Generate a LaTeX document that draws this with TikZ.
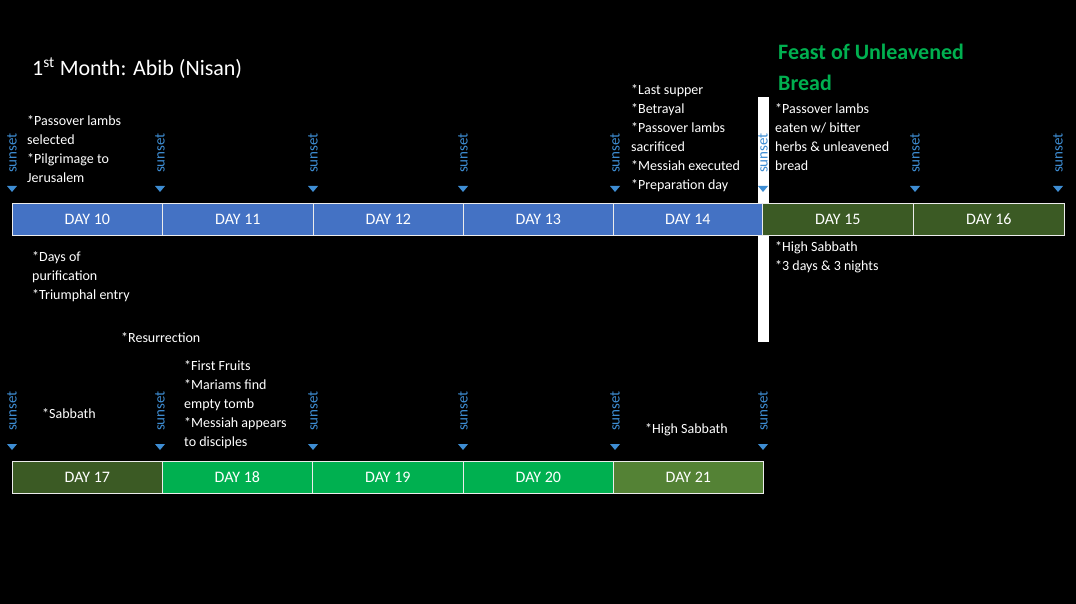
\documentclass[tikz,border=0pt]{standalone}
\usepackage{fontspec}
\setmainfont{Carlito}
\begin{document}
\begin{tikzpicture}[x=1pt,y=-1pt,
 day/.style={draw=white!85!gray,line width=0.8pt,minimum height=32pt,inner sep=0pt,text=white,font=\fontsize{16}{16}\selectfont,anchor=north west},
 note/.style={text=white,font=\fontsize{14}{19}\selectfont,align=left,anchor=north west,inner sep=0pt},
 sun/.style={text=cyan!60!blue!80,rotate=90,font=\fontsize{15}{15}\selectfont,inner sep=0pt},
 tri/.style={fill=cyan!60!blue!80}]
\fill[black] (0,0) rectangle (1076,604);
\useasboundingbox (0,0) rectangle (1076,604);
\definecolor{blu}{HTML}{4472C4}\definecolor{dg}{HTML}{3B5A24}\definecolor{gr}{HTML}{00B050}\definecolor{mg}{HTML}{548235}
\fill[white] (758,97) rectangle (769,342);
\node[note,font=\fontsize{22}{22}\selectfont] (title) at (32,58) {1\textsuperscript{st} Month: Abib (Nisan)};
\node[note,font=\fontsize{22}{31}\selectfont\bfseries,text=gr] (feast) at (778,44) {Feast of Unleavened\\Bread};
% top row
\foreach \a/\b/\c/\t/\n in {12/162/blu/DAY 10/d10,162/313/blu/DAY 11/d11,313/463/blu/DAY 12/d12,463/613/blu/DAY 13/d13,613/762/blu/DAY 14/d14,762/913/dg/DAY 15/d15,913/1064/dg/DAY 16/d16}
 \node[day,fill=\c,minimum width=\b-\a] (\n) at (\a,203) {\t};
\foreach \a/\b/\c/\t/\n in {12/162/dg/DAY 17/d17,162/312/gr/DAY 18/d18,312/463/gr/DAY 19/d19,463/613/gr/DAY 20/d20,613/763/mg/DAY 21/d21}
 \node[day,fill=\c,minimum width=\b-\a] (\n) at (\a,461) {\t};
\foreach \x [count=\i] in {12,160,313,463,615,763,915,1058}{
 \node[sun] (st\i) at (\x,153) {sunset};
 \fill[tri] (\x-5,186) -- (\x+5,186) -- (\x,192) -- cycle;}
\foreach \x [count=\i] in {12,160,313,463,615,763}{
 \node[sun] (sb\i) at (\x,411) {sunset};
 \fill[tri] (\x-5,444) -- (\x+5,444) -- (\x,450) -- cycle;}
\node[note] (n1) at (27,115) {*Passover lambs\\selected\\*Pilgrimage to\\Jerusalem};
\node[note] (n2) at (631,84) {*Last supper\\*Betrayal\\*Passover lambs\\sacrificed\\*Messiah executed\\*Preparation day};
\node[note] (n3) at (775,103) {*Passover lambs\\eaten w/ bitter\\herbs \& unleavened\\bread};
\node[note] (n4) at (32,251) {*Days of\\purification\\*Triumphal entry};
\node[note] (n5) at (775,241) {*High Sabbath\\*3 days \& 3 nights};
\node[note] (n6) at (121,332) {*Resurrection};
\node[note] (n7) at (184,360) {*First Fruits\\*Mariams find\\empty tomb\\*Messiah appears\\to disciples};
\node[note] (n8) at (42,408) {*Sabbath};
\node[note] (n9) at (645,423) {*High Sabbath};
\end{tikzpicture}
\end{document}
